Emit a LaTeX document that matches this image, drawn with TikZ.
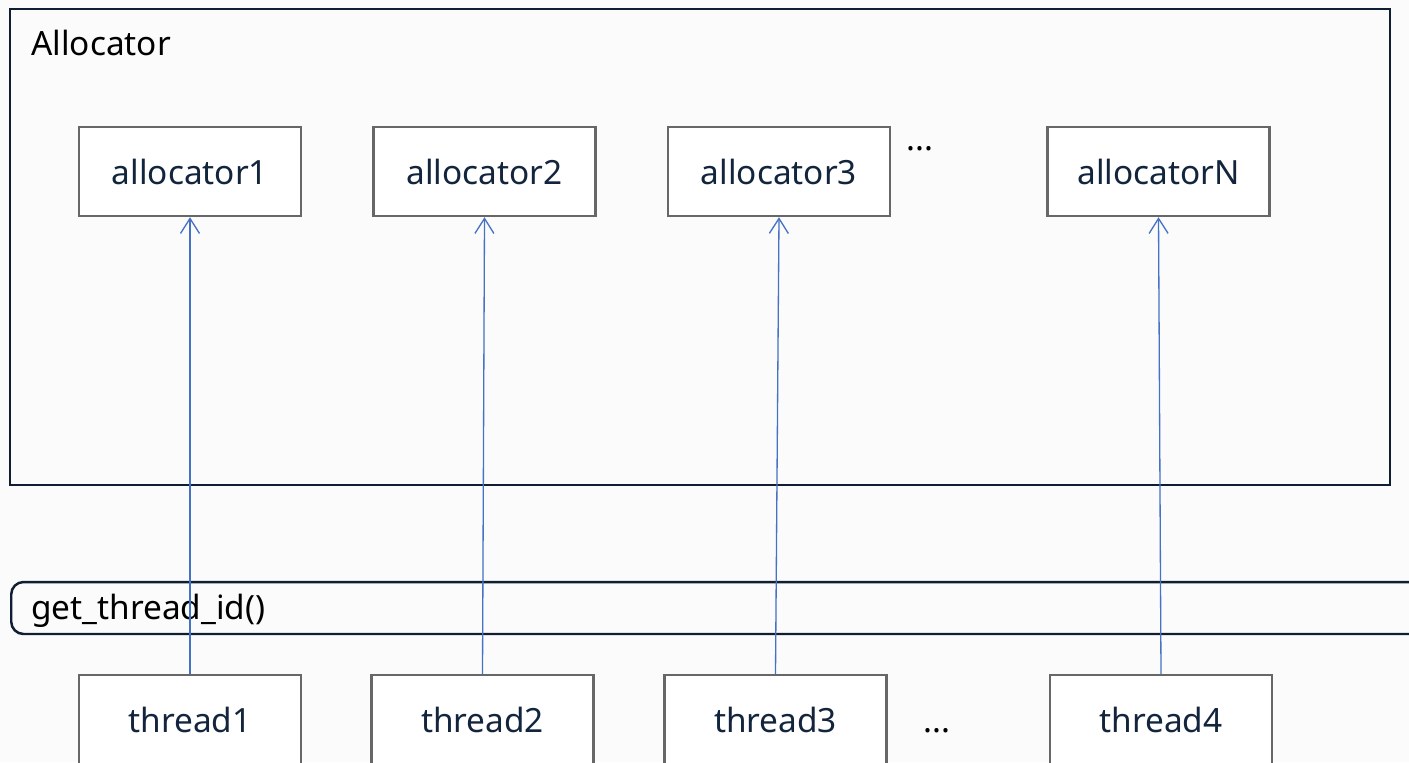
\documentclass[tikz,border=0pt]{standalone}
\usepackage{fontspec}
\setmainfont{Noto Sans}
\usetikzlibrary{arrows.meta}
\definecolor{pagebg}{HTML}{FBFBFC}
\definecolor{frame}{HTML}{0F1E30}
\definecolor{boxline}{HTML}{676767}
\definecolor{labeltext}{HTML}{13253D}
\definecolor{link}{HTML}{4472C4}
\tikzset{
  unitbox/.style={draw=boxline, line width=1.4pt, fill=white, inner sep=0pt,
    minimum width=4.44cm, minimum height=1.78cm, text=labeltext,
    font=\fontsize{19}{22}\selectfont},
  title/.style={inner sep=0pt, anchor=base west, text=black,
    font=\fontsize{19}{22}\selectfont},
  dots/.style={inner sep=0pt, anchor=base, text=black,
    font=\fontsize{19}{22}\selectfont},
  link/.style={draw=link, line width=0.75pt,
    -{Straight Barb[length=0.3cm, width=0.38cm, line width=0.75pt]}}
}
\begin{document}
\begin{tikzpicture}[x=0.02cm, y=-0.02cm]
  \useasboundingbox (0,0) rectangle (1409,762);
  \clip (0,0) rectangle (1409,762);
  \fill[pagebg] (0,0) rectangle (1409,762);

  % allocator container
  \node[draw=frame, line width=1.4pt, inner sep=0pt,
        minimum width=27.6cm, minimum height=9.52cm] (alloc) at (700,247) {};
  \node[title] (alloclabel) at (31,55) {Allocator};

  % per-thread allocators
  \node[unitbox] (a1) at (190,171.5)   {allocator1};
  \node[unitbox] (a2) at (484.5,171.5) {allocator2};
  \node[unitbox] (a3) at (779,171.5)   {allocator3};
  \node[dots]    (adots) at (920,150)  {...};
  \node[unitbox] (aN) at (1158.5,171.5) {allocatorN};

  % thread id lookup bar
  \node[draw=frame, line width=1.4pt, rounded corners=7pt, inner sep=0pt,
        anchor=west, minimum width=28.4cm, minimum height=1.04cm] (gtid) at (10,608) {};
  \node[title] (gtidlabel) at (31,619) {get\_thread\_id()};

  % threads
  \node[unitbox] (t1) at (190,719.5)   {thread1};
  \node[unitbox] (t2) at (482.5,719.5) {thread2};
  \node[unitbox] (t3) at (775.5,719.5) {thread3};
  \node[dots]    (tdots) at (937,732)  {...};
  \node[unitbox] (t4) at (1161,719.5)  {thread4};

  % thread -> allocator mapping
  \draw[link] (t1.north) -- (a1.south);
  \draw[link] (t2.north) -- (a2.south);
  \draw[link] (t3.north) -- (a3.south);
  \draw[link] (t4.north) -- (aN.south);
\end{tikzpicture}
\end{document}
